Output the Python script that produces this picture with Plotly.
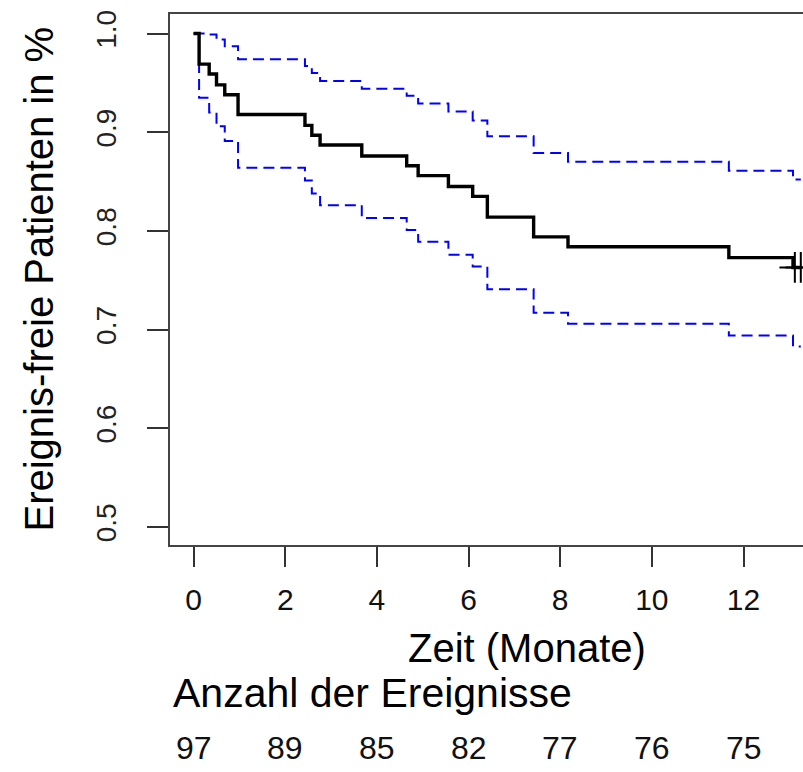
import plotly.graph_objects as go

# Kaplan-Meier estimate
times = [0, 0.12, 0.34, 0.50, 0.68, 0.97, 2.43, 2.58, 2.76, 3.67, 4.65, 4.90,
         5.56, 6.09, 6.41, 7.42, 8.17, 11.68, 13.08, 13.25]
surv = [1.0, 0.969, 0.959, 0.948, 0.938, 0.918, 0.907, 0.897, 0.887, 0.876,
        0.866, 0.856, 0.845, 0.835, 0.814, 0.794, 0.784, 0.773, 0.763, 0.763]
upper = [1.0, 1.0, 0.999, 0.994, 0.987, 0.974, 0.967, 0.960, 0.952, 0.944,
         0.937, 0.929, 0.921, 0.912, 0.896, 0.879, 0.870, 0.861, 0.852, 0.852]
lower = [1.0, 0.935, 0.920, 0.906, 0.891, 0.864, 0.851, 0.838, 0.826, 0.813,
         0.801, 0.789, 0.776, 0.764, 0.741, 0.717, 0.706, 0.694, 0.683, 0.683]
censor_times = [13.12, 13.25]
censor_surv = [0.763, 0.763]

x_ticks = [0, 2, 4, 6, 8, 10, 12]
y_ticks = [0.5, 0.6, 0.7, 0.8, 0.9, 1.0]
y_tick_labels = ["0.5", "0.6", "0.7", "0.8", "0.9", "1.0"]
at_risk = [97, 89, 85, 82, 77, 76, 75]

FONT = "Liberation Sans, Arial, sans-serif"

fig = go.Figure()
fig.add_trace(go.Scatter(x=times, y=upper, mode="lines", line_shape="hv",
                         line=dict(color="#0000FF", width=2, dash="11px,6px"),
                         showlegend=False, hoverinfo="skip"))
fig.add_trace(go.Scatter(x=times, y=lower, mode="lines", line_shape="hv",
                         line=dict(color="#0000FF", width=2, dash="11px,6px"),
                         showlegend=False, hoverinfo="skip"))
fig.add_trace(go.Scatter(x=times, y=surv, mode="lines", line_shape="hv",
                         line=dict(color="#000000", width=3.4),
                         showlegend=False))
fig.add_trace(go.Scatter(x=censor_times, y=censor_surv, mode="markers",
                         marker=dict(symbol="cross-thin", size=22,
                                     line=dict(color="#000000", width=2)),
                         showlegend=False, cliponaxis=False))

annotations = [
    dict(text="Ereignis-freie Patienten in %", xref="paper", yref="paper",
         x=-0.2085, y=0.5, xanchor="center", yanchor="middle", textangle=-90,
         showarrow=False, font=dict(family=FONT, size=40, color="#000")),
    dict(text="Zeit (Monate)", xref="paper", yref="paper",
         x=0.564, y=-0.194, xanchor="center", yanchor="middle",
         showarrow=False, font=dict(family=FONT, size=40, color="#000")),
    dict(text="Anzahl der Ereignisse", xref="paper", yref="paper",
         x=0.002, y=-0.279, xanchor="left", yanchor="middle",
         showarrow=False, font=dict(family=FONT, size=41, color="#000")),
]
for xv, n in zip(x_ticks, at_risk):
    annotations.append(dict(text=str(n), xref="x", yref="paper", x=xv, y=-0.382,
                            xanchor="center", yanchor="middle", showarrow=False,
                            font=dict(family=FONT, size=32, color="#111")))

fig.update_layout(
    width=803, height=772,
    margin=dict(l=170, r=0, t=14, b=227),
    paper_bgcolor="white", plot_bgcolor="white",
    font=dict(family=FONT, color="#111"),
    annotations=annotations,
    xaxis=dict(range=[-0.515, 13.298], tickvals=x_ticks,
               ticktext=[str(v) for v in x_ticks],
               showgrid=False, zeroline=False,
               showline=True, mirror=True, linecolor="#444", linewidth=2,
               ticks="outside", ticklen=20, tickwidth=2, tickcolor="#333",
               tickfont=dict(family=FONT, size=30, color="#111"),
               ticklabelstandoff=7),
    yaxis=dict(range=[0.4818, 1.0198], tickvals=y_ticks, ticktext=y_tick_labels,
               showgrid=False, zeroline=False,
               showline=True, mirror=False, linecolor="#444", linewidth=2,
               ticks="outside", ticklen=21, tickwidth=2, tickcolor="#333",
               tickangle=-90,
               tickfont=dict(family=FONT, size=28, color="#222"),
               ticklabelstandoff=20),
)

fig.write_html("out.html",
               config={"displayModeBar": False},
               post_script="document.body.style.margin='0';document.body.style.overflow='hidden';")
